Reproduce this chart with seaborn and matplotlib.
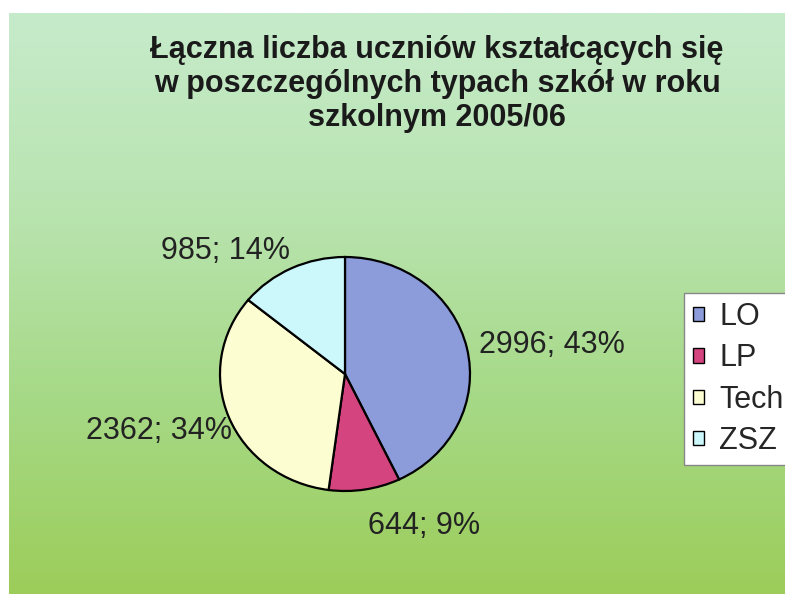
import numpy as np
import matplotlib
matplotlib.use("Agg")
import matplotlib.pyplot as plt
import seaborn as sns
from matplotlib.colors import LinearSegmentedColormap

sns.set_theme(style="white")
plt.rcParams['font.family'] = ['Liberation Sans', 'DejaVu Sans']

# data
categories = ['LO', 'LP', 'Tech', 'ZSZ']
students = [2996, 644, 2362, 985]
title = 'Łączna liczba uczniów kształcących się\nw poszczególnych typach szkół w roku\nszkolnym 2005/06'

palette = sns.color_palette(['#8c9cda', '#d4457f', '#fdfdd2', '#ccf8fc'])

W, H = 785, 599
fig = plt.figure(figsize=(W / 100, H / 100), dpi=100, facecolor='white')

# gradient background
bg = fig.add_axes([9 / W, 1 - 594 / H, 1 - 9 / W, 581 / H])
grad = LinearSegmentedColormap.from_list(
    'bg', ['#c6ebcb', '#b9e4b0', '#a6d986', '#9ccd5a'])
bg.imshow(np.linspace(0, 1, 256).reshape(-1, 1), aspect='auto', cmap=grad,
          extent=[0, 1, 0, 1], origin='upper')
bg.set_axis_off()

# baseline of the last title line
fig.text(437 / W, 1 - 126 / H, title, ha='center', va='baseline',
         fontsize=22, fontweight='bold', color='#1a1a1a', linespacing=1.17)

# pie axes: center (345, 374), rx 125, ry 117 px
cx, cy, rx, ry = 345, 374, 125, 117
ax = fig.add_axes([(cx - 1.5 * rx) / W, 1 - (cy + 1.5 * ry) / H,
                   3 * rx / W, 3 * ry / H])
ax.set_axis_off()
wedges, _ = ax.pie(students, colors=palette, startangle=90,
                   counterclock=False,
                   wedgeprops=dict(edgecolor='black', linewidth=1.6))
ax.set_aspect('auto')
ax.set_xlim(-1.5, 1.5)
ax.set_ylim(-1.5, 1.5)

total = sum(students)
dist = [1.1, 1.19, 0.97, 1.02]
for w, v, d in zip(wedges, students, dist):
    th = np.deg2rad((w.theta1 + w.theta2) / 2)
    c, s = np.cos(th), np.sin(th)
    ha = 'left' if c > 0.1 else ('right' if c < -0.1 else 'center')
    va = 'bottom' if s > 0.3 else ('top' if s < -0.3 else 'center')
    ax.text(d * c, d * s, f'{v}; {round(100 * v / total)}%', ha=ha, va=va,
            fontsize=22, color='#222222', clip_on=False)

leg = fig.legend(wedges, categories, loc='upper left',
                 bbox_to_anchor=(684 / W, 1 - 293 / H), fontsize=22,
                 frameon=True, fancybox=False, edgecolor='#888888',
                 framealpha=1, handlelength=0.35, handleheight=0.35,
                 handletextpad=0.5, labelspacing=0.37, borderpad=0.3,
                 borderaxespad=0)
for h in leg.legend_handles:
    h.set_linewidth(1)
leg.get_frame().set_linewidth(1)

fig.savefig('out.png', dpi=100, facecolor='white')
